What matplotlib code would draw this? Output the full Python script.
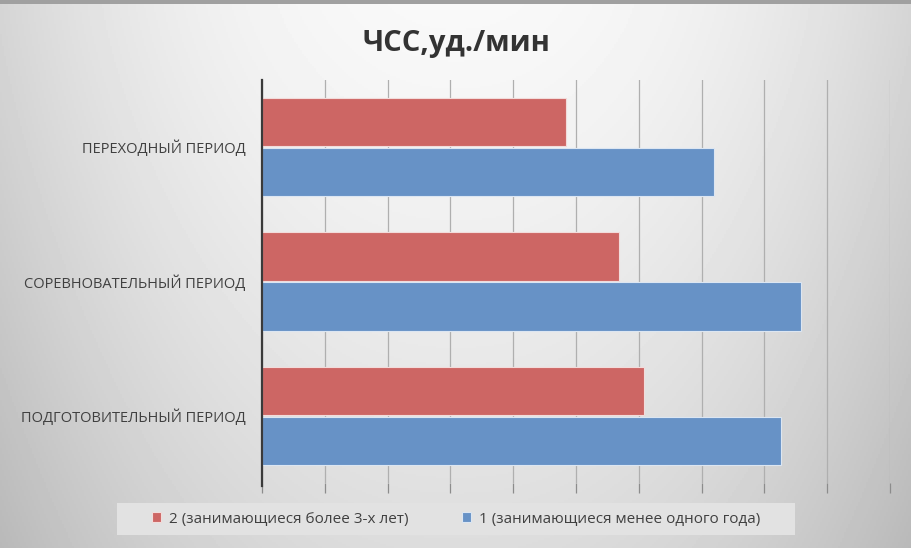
import numpy as np
import matplotlib
matplotlib.use("Agg")
import matplotlib.pyplot as plt
from matplotlib.patches import Rectangle

plt.rcParams['font.family'] = ['Open Sans', 'DejaVu Sans']

categories = ['ПОДГОТОВИТЕЛЬНЫЙ ПЕРИОД', 'СОРЕВНОВАТЕЛЬНЫЙ ПЕРИОД', 'ПЕРЕХОДНЫЙ ПЕРИОД']
group2 = [60.9, 56.9, 48.4]   # 2 (занимающиеся более 3-х лет)
group1 = [82.6, 85.8, 72.0]   # 1 (занимающиеся менее одного года)
label2 = '2 (занимающиеся более 3-х лет)'
label1 = '1 (занимающиеся менее одного года)'

fig = plt.figure(figsize=(9.12, 5.48), dpi=100)

# gray gradient background, lighter toward the top centre
bg = fig.add_axes([0, 0, 1, 1], zorder=0)
bg.axis('off')
gx = np.linspace(-1, 1, 456)
gy = np.linspace(0, 1, 274)
X, Y = np.meshgrid(gx, gy)
shade = 0.975 - 0.14 * np.abs(X) ** 2.2 - 0.11 * Y ** 1.3
bg.imshow(shade, cmap='gray', vmin=0, vmax=1, aspect='auto',
          extent=[0, 1, 0, 1], origin='upper')
bg.add_patch(Rectangle((0, 0.993), 1, 0.007, color='#A0A0A0', lw=0))
bg.set_xlim(0, 1)
bg.set_ylim(0, 1)

ax = fig.add_axes([262 / 912, 65 / 548, 628 / 912, 403 / 548], zorder=1)
ax.set_facecolor('none')

y = np.arange(len(categories))
h = 0.36
ax.barh(y + 0.185, group2, height=h, color='#CD6664', edgecolor='#F2DCDB',
        linewidth=0.8, label=label2, zorder=3)
ax.barh(y - 0.185, group1, height=h, color='#6792C6', edgecolor='#DCE6F2',
        linewidth=0.8, label=label1, zorder=3)

ax.set_xlim(0, 100)
ax.set_ylim(-0.5, 2.5)
ax.set_xticks(np.arange(0, 101, 10))
ax.set_xticklabels([])
ax.xaxis.grid(True, color='#AFAFAF', linewidth=0.9, zorder=0)
ax.tick_params(axis='x', length=7, width=0.9, color='#8C8C8C', direction='out')
ax.set_yticks(y)
ax.set_yticklabels(categories, fontsize=10.5, color='#404040')
ax.tick_params(axis='y', length=0, pad=12)
for s in ['top', 'right', 'bottom']:
    ax.spines[s].set_visible(False)
ax.spines['left'].set_color('#3A3A3A')
ax.spines['left'].set_linewidth(1.6)
ax.spines['left'].set_bounds(-0.52, 2.5)
ax.spines['left'].set_zorder(5)

fig.text(0.5, 1 - 43 / 548, 'ЧСС,уд./мин', ha='center', va='center',
         fontsize=21, fontweight='bold', color='#333333')

# legend band
bg.add_patch(Rectangle((117 / 912, 1 - 535 / 548), 678 / 912, 32 / 548,
                       color='#E2E2E2', lw=0))
handles, labels = ax.get_legend_handles_labels()
fig.legend(handles, labels, loc='center', bbox_to_anchor=(456 / 912, 1 - 519 / 548),
           ncol=2, frameon=False, fontsize=11, handlelength=0.6,
           handleheight=0.6, handletextpad=0.5, columnspacing=3.5,
           labelcolor='#404040')

fig.savefig('out.png', dpi=100)
